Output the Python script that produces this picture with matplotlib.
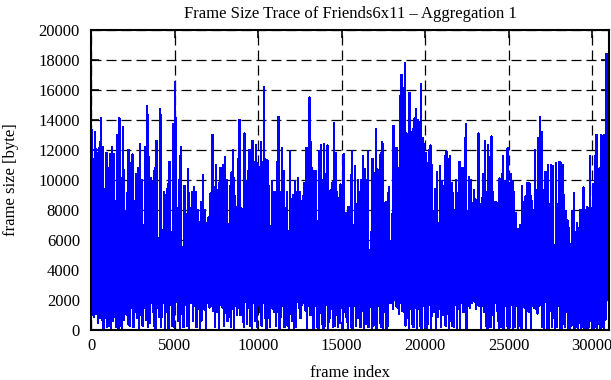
import numpy as np
import matplotlib
matplotlib.use("Agg")
import matplotlib.pyplot as plt

# trace in four stretches; per stretch: first/last frame,
# upper and lower frame size per small bin
seg_edges = [0, 7900, 15680, 23460, 31000]

peaks_a = [
    13300, 11400, 13200, 11800, 12100, 14100, 12200, 9400, 11800, 10800,
    11700, 12200, 11700, 8600, 13000, 14100, 10100, 13500, 5900, 9100,
    12000, 11100, 11700, 8600, 10400, 10800, 12400, 10000, 7000, 12200,
    14900, 11500, 10100, 9900, 10800, 12600, 6100, 14700, 6500, 9200,
    9000, 9700, 11200, 6500, 13700, 16500, 7500, 10000, 12200, 5500,
    9600, 7700, 10700, 8100, 9200, 9500, 9200, 8000, 7200, 8500,
    10300, 8000, 7100, 7500, 9100, 13000, 9500, 11000, 9300, 10800,
    10800,
]
peaks_b = [
    11000, 11500, 10000, 6400, 9600, 10500, 12000, 8900, 8200, 11400,
    14000, 8100, 5100, 13100, 9900, 10600, 12000, 9900, 12600, 11200,
    12300, 11100, 6400, 12500, 11200, 16200, 11300, 11300, 9600, 6900,
    9900, 9200, 9200, 11200, 14200, 9200, 12100, 10600, 8100, 9200,
    6100, 11900, 8600, 9000, 9900, 9200, 10100, 9200, 8600, 8900,
    9800, 12100, 12100, 15500, 12500, 7900, 10600, 10600, 7000, 11900,
    12300, 10000, 12400, 10000, 12300, 5000, 9300, 9800, 13800, 11800,
    9200, 8800, 9700, 6500, 11700, 7800, 7800, 8200, 6500, 11900,
]
peaks_c = [
    5400, 10900, 8400, 10000, 8100, 10000, 11600, 10700, 10000, 11900,
    4700, 6500, 11400, 9200, 13400, 10700, 9500, 11800, 12500, 7600,
    8500, 8500, 9500, 5800, 7700, 13600, 12100, 12100, 6800, 15600,
    17000, 16100, 17800, 13100, 6200, 15800, 13200, 13400, 14100, 14700,
    14000, 12000, 16400, 12800, 12400, 11800, 11100, 12000, 12300, 11000,
    5400, 9400, 10500, 7100, 10900, 9900, 9600, 11600, 11900, 9300,
    11600, 9800, 9100, 8000, 10000, 9100, 11200, 10800, 10800, 7600,
    13700, 7900, 10200, 10000, 5700, 9300, 8700, 6200, 13100, 8400,
    8800,
]
peaks_d = [
    10400, 12600, 9200, 12300, 10500, 12900, 9200, 8500, 8500, 6300,
    10100, 9900, 11600, 9900, 8300, 12100, 9800, 10400, 9900, 9200,
    7800, 6700, 6700, 7000, 9600, 8500, 8900, 9800, 9800, 9700,
    8600, 8000, 12000, 9300, 12800, 14200, 13200, 8500, 10500, 10500,
    11000, 8400, 11000, 10900, 4800, 11100, 8400, 11200, 11100, 11000,
    9000, 7900, 7300, 6800, 5700, 7900, 9100, 6500, 7100, 6800,
    8000, 7100, 9500, 8000, 8200, 8100, 11600, 8100, 9700, 11600,
    13000, 10100, 10800, 13000, 10800, 13000, 18400, 18400,
]

lows_a = [
    1000, 900, 1100, 500, 800, 700, 100, 800, 200, 300,
    100, 600, 900, 200, 100, 300, 100, 700, 1100, 400,
    300, 1500, 200, 1200, 800, 100, 1000, 300, 1500, 700,
    200, 500, 1800, 300, 100, 1500, 900, 200, 1800, 100,
    1200, 100, 1700, 300, 200, 1900, 600, 100, 1100, 200,
    1700, 300, 100, 1800, 600, 1600, 200, 1400, 100, 700,
    1400, 100, 1800, 1500, 1600, 1300, 200, 1200, 100, 1700,
    1500,
]
lows_b = [
    300, 1800, 600, 1200, 200, 1400, 100, 1600, 1000,
    1500, 1000, 1300, 200, 1900, 400, 1500, 300, 100, 1800,
    600, 200, 1600, 1200, 300, 1800, 800, 100, 1700, 200,
    1500, 1400, 1200, 300, 1900, 100, 900, 1600, 200, 1700,
    300, 100, 1800, 600, 100, 200, 1900, 1500, 800, 1700,
    1800, 1300, 100, 1600, 1000, 1900, 100, 1600, 200, 100,
    1800, 400, 100, 300, 1700, 100, 800, 1400, 200, 300,
    1000, 200, 500, 1700, 100, 1200, 900, 100, 1600, 200,
    100,
]
lows_c = [
    1600, 300, 800, 1500, 200, 1300, 100, 400, 1100,
    200, 1800, 100, 300, 1300, 100, 1600, 500, 200, 100,
    1200, 100, 300, 1800, 1900, 1400, 2000, 1600, 1500, 1100,
    1800, 1300, 1200, 300, 1700, 100, 1400, 400, 200, 1500,
    100, 1400, 300, 100, 1600, 200, 100, 400, 1700, 100,
    1500, 1200, 100, 900, 1400, 200, 1000, 1600, 300, 1100,
    100, 600, 300, 200, 1700, 100, 1400, 100, 1800, 1200,
    1700, 100, 1600, 1500, 1800, 2100, 1900, 1400, 1700, 1600,
    100, 1600,
]
lows_d = [
    1200, 300, 100, 1800, 200, 1000, 100, 1800,
    1300, 100, 200, 1700, 100, 1600, 300, 100, 200, 1700,
    100, 200, 1600, 100, 300, 100, 1700, 1500, 100, 1300,
    1200, 100, 1600, 1500, 1400, 1100, 1600, 1700, 200, 100,
    1900, 100, 100, 1300, 200, 800, 100, 200, 1600, 100,
    100, 400, 200, 1200, 100, 100, 300, 1700, 100, 200,
    100, 500, 100, 200, 100, 300, 100, 200, 600, 100,
    100, 200, 100, 400, 100, 200, 100, 700, 2300, 2000,
]

segments = [(peaks_a, lows_a), (peaks_b, lows_b), (peaks_c, lows_c), (peaks_d, lows_d)]

# zigzag trace: one peak and one low per bin
xs, ys = [], []
for k, (pk, lo) in enumerate(segments):
    n = min(len(pk), len(lo))
    w = (seg_edges[k + 1] - seg_edges[k]) / n
    for i in range(n):
        xs += [seg_edges[k] + (i + 0.25) * w, seg_edges[k] + (i + 0.75) * w]
        ys += [pk[i], lo[i]]

plt.rcParams['font.family'] = ['Liberation Serif', 'DejaVu Serif']
plt.rcParams['font.size'] = 12

fig = plt.figure(figsize=(6.11, 3.80), dpi=100)
ax = fig.add_axes([0.149, 0.1316, 0.8477, 0.7894])

ax.plot(xs, ys, color='#0000ff', linewidth=1.0, antialiased=False, zorder=2)

ax.set_xlim(0, 31000)
ax.set_ylim(0, 20000)
ax.set_xticks(np.arange(0, 30001, 5000))
ax.set_yticks(np.arange(0, 20001, 2000))
ax.grid(True, color='black', linestyle=(0, (8, 4)), linewidth=0.9, zorder=1)
ax.set_axisbelow(True)
ax.tick_params(direction='in', length=6, width=1.2, top=True, right=True)
ax.tick_params(axis='y', pad=8)
ax.tick_params(axis='x', pad=6)
for s in ax.spines.values():
    s.set_linewidth(1.5)
    s.set_zorder(3)

ax.set_title('Frame Size Trace of Friends6x11 – Aggregation 1', fontsize=12, pad=9)
ax.set_xlabel('frame index', labelpad=8)
ax.set_ylabel('frame size [byte]', labelpad=14)

fig.savefig('out.png', dpi=100)
